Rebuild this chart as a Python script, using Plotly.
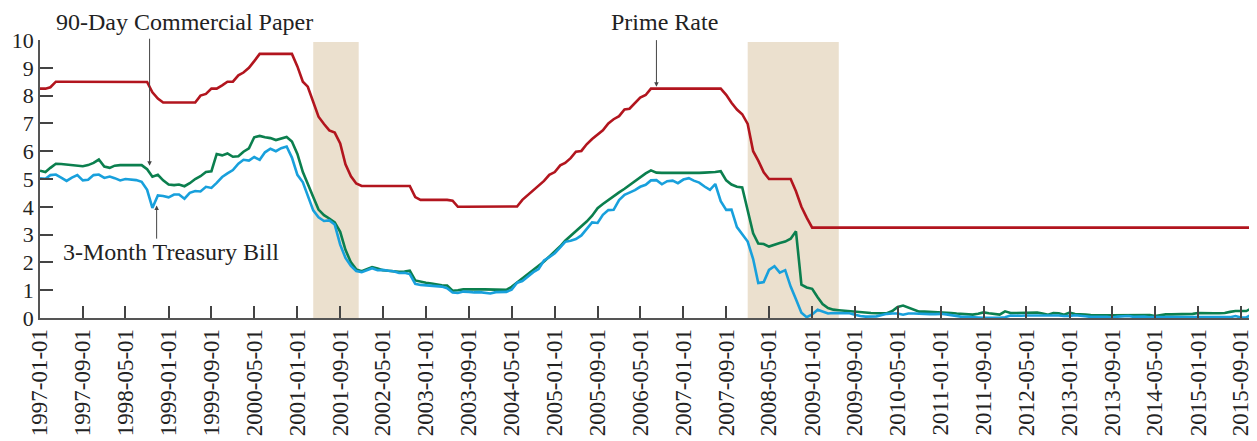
import pandas as pd
import plotly.graph_objects as go

# ---------------- data (monthly, 1997-01 .. 2015-12) ----------------
prime_rate = (
    [8.25, 8.25, 8.30, 8.50, 8.50, 8.50, 8.50, 8.50, 8.50, 8.50, 8.50, 8.50] +
    [8.50] * 8 + [8.49, 8.12, 7.89, 7.75] +
    [7.75] * 6 + [8.00, 8.06, 8.25, 8.25, 8.37, 8.50] +
    [8.50, 8.73, 8.83, 9.00, 9.24, 9.50, 9.50, 9.50, 9.50, 9.50, 9.50, 9.50] +
    [9.05, 8.50, 8.32, 7.80, 7.24, 6.98, 6.75, 6.67, 6.28, 5.53, 5.10, 4.84] +
    [4.75] * 10 + [4.35, 4.25] +
    [4.25] * 5 + [4.22] + [4.00] * 6 +
    [4.00] * 5 + [4.01, 4.25, 4.43, 4.58, 4.75, 4.93, 5.15] +
    [5.25, 5.49, 5.58, 5.75, 5.98, 6.01, 6.25, 6.44, 6.59, 6.75, 7.00, 7.15] +
    [7.26, 7.50, 7.53, 7.75, 7.93, 8.02, 8.25, 8.25, 8.25, 8.25, 8.25, 8.25] +
    [8.25] * 8 + [8.03, 7.74, 7.50, 7.33] +
    [6.98, 6.00, 5.66, 5.24, 5.00, 5.00, 5.00, 5.00, 5.00, 4.56, 4.00, 3.61] +
    [3.25] * 72 +
    [3.25] * 11 + [3.35]
)

commercial_paper_90d = (
    [5.30, 5.25, 5.40, 5.55, 5.54, 5.52, 5.50, 5.48, 5.46, 5.50, 5.58, 5.70] +
    [5.45, 5.40, 5.48, 5.50, 5.50, 5.50, 5.50, 5.50, 5.35, 5.08, 5.15, 4.95] +
    [4.80, 4.78, 4.80, 4.74, 4.85, 5.00, 5.10, 5.25, 5.28, 5.90, 5.85, 5.92] +
    [5.80, 5.82, 5.98, 6.10, 6.50, 6.55, 6.50, 6.47, 6.40, 6.45, 6.51, 6.35] +
    [5.90, 5.25, 4.85, 4.35, 3.90, 3.70, 3.58, 3.44, 3.10, 2.45, 2.00, 1.75] +
    [1.68, 1.75, 1.83, 1.78, 1.72, 1.70, 1.68, 1.66, 1.67, 1.70, 1.35, 1.30] +
    [1.27, 1.24, 1.20, 1.18, 1.17, 0.98, 1.00, 1.03, 1.03, 1.02, 1.03, 1.03] +
    [1.02, 1.01, 1.00, 1.01, 1.12, 1.28, 1.42, 1.57, 1.72, 1.88, 2.03, 2.20] +
    [2.40, 2.58, 2.78, 2.95, 3.10, 3.27, 3.47, 3.68, 3.95, 4.10, 4.25, 4.40] +
    [4.52, 4.65, 4.78, 4.90, 5.05, 5.20, 5.31, 5.23, 5.22, 5.22, 5.22, 5.22] +
    [5.22, 5.20, 5.22, 5.22, 5.23, 5.23, 5.25, 5.28, 4.95, 4.80, 4.72, 4.70] +
    [3.85, 3.05, 2.68, 2.66, 2.57, 2.65, 2.70, 2.75, 2.85, 3.12, 1.20, 1.10] +
    [1.05, 0.75, 0.50, 0.36, 0.30, 0.28, 0.26, 0.24, 0.22, 0.20, 0.19, 0.18] +
    [0.17, 0.16, 0.17, 0.25, 0.40, 0.45, 0.38, 0.28, 0.23, 0.23, 0.22, 0.22] +
    [0.22, 0.20, 0.18, 0.16, 0.15, 0.13, 0.12, 0.15, 0.20, 0.17, 0.14, 0.12] +
    [0.24, 0.18, 0.18, 0.18, 0.18, 0.18, 0.20, 0.16, 0.12, 0.18, 0.17, 0.12] +
    [0.19, 0.14, 0.12, 0.12, 0.11, 0.10, 0.10, 0.10, 0.10, 0.10, 0.10, 0.10] +
    [0.10, 0.10, 0.11, 0.11, 0.07, 0.10, 0.13, 0.13, 0.13, 0.13, 0.13, 0.15] +
    [0.18, 0.17, 0.16, 0.17, 0.17, 0.18, 0.22, 0.25, 0.25, 0.25, 0.35, 0.50]
)

treasury_bill_3m = (
    [5.03, 5.01, 5.14, 5.16, 5.05, 4.93, 5.05, 5.14, 4.95, 4.97, 5.14, 5.16] +
    [5.04, 5.09, 5.03, 4.95, 5.00, 4.98, 4.96, 4.90, 4.61, 3.96, 4.41, 4.39] +
    [4.34, 4.44, 4.44, 4.29, 4.50, 4.57, 4.55, 4.72, 4.68, 4.86, 5.07, 5.20] +
    [5.32, 5.55, 5.69, 5.66, 5.79, 5.69, 5.96, 6.09, 6.00, 6.11, 6.17, 5.77] +
    [5.15, 4.88, 4.42, 3.87, 3.62, 3.49, 3.51, 3.36, 2.64, 2.16, 1.87, 1.69] +
    [1.65, 1.73, 1.79, 1.72, 1.73, 1.70, 1.68, 1.62, 1.63, 1.58, 1.23, 1.19] +
    [1.17, 1.17, 1.13, 1.13, 1.07, 0.92, 0.90, 0.95, 0.94, 0.92, 0.93, 0.90] +
    [0.88, 0.93, 0.94, 0.94, 1.02, 1.27, 1.33, 1.48, 1.65, 1.76, 2.07, 2.19] +
    [2.33, 2.54, 2.74, 2.78, 2.84, 2.97, 3.22, 3.44, 3.42, 3.71, 3.88, 3.89] +
    [4.24, 4.43, 4.51, 4.60, 4.72, 4.79, 4.95, 4.96, 4.81, 4.92, 4.94, 4.85] +
    [4.98, 5.03, 4.94, 4.87, 4.73, 4.61, 4.82, 4.20, 3.89, 3.90, 3.27, 3.00] +
    [2.75, 2.12, 1.26, 1.29, 1.73, 1.86, 1.63, 1.72, 1.13, 0.67, 0.19, 0.03] +
    [0.13, 0.30, 0.22, 0.16, 0.18, 0.18, 0.18, 0.17, 0.12, 0.07, 0.05, 0.05] +
    [0.06, 0.11, 0.15, 0.16, 0.16, 0.12, 0.16, 0.16, 0.15, 0.13, 0.14, 0.14] +
    [0.15, 0.13, 0.10, 0.06, 0.04, 0.04, 0.04, 0.02, 0.01, 0.02, 0.01, 0.01] +
    [0.03, 0.09, 0.08, 0.08, 0.09, 0.09, 0.10, 0.10, 0.11, 0.10, 0.09, 0.07] +
    [0.07, 0.10, 0.09, 0.06, 0.04, 0.05, 0.04, 0.04, 0.02, 0.05, 0.07, 0.07] +
    [0.04, 0.05, 0.05, 0.03, 0.03, 0.04, 0.03, 0.03, 0.02, 0.02, 0.02, 0.03] +
    [0.03, 0.02, 0.03, 0.02, 0.02, 0.02, 0.03, 0.07, 0.02, 0.02, 0.12, 0.23]
)

dates = pd.date_range("1997-01-01", periods=len(prime_rate), freq="MS")

tick_labels = [d.strftime("%Y-%m-%d") for d in pd.date_range("1997-01-01", "2015-09-01", freq="8MS")]

recessions = [("2001-04-01", "2001-12-15"), ("2008-01-01", "2009-06-01")]

SERIF = "Liberation Serif, Times New Roman, serif"
RED = "#B2151E"
GREEN = "#0B7F4E"
BLUE = "#18A0DC"

fig = go.Figure()

for x0, x1 in recessions:
    fig.add_shape(type="rect", xref="x", yref="y", x0=x0, x1=x1, y0=0, y1=9.93,
                  fillcolor="#EBE0CE", line_width=0, layer="below")

fig.add_trace(go.Scatter(x=dates, y=prime_rate, mode="lines", name="Prime Rate",
                         line=dict(color=RED, width=2.6)))
fig.add_trace(go.Scatter(x=dates, y=commercial_paper_90d, mode="lines", name="90-Day Commercial Paper",
                         line=dict(color=GREEN, width=2.6)))
fig.add_trace(go.Scatter(x=dates, y=treasury_bill_3m, mode="lines", name="3-Month Treasury Bill",
                         line=dict(color=BLUE, width=2.6)))

arrow_style = dict(showarrow=True, arrowhead=2, arrowsize=0.9, arrowwidth=1, arrowcolor="#444",
                   axref="x", ayref="y", text="")
fig.add_annotation(x="1998-09-15", y=5.48, ax="1998-09-15", ay=10.1, **arrow_style)
fig.add_annotation(x="1998-10-25", y=4.05, ax="1998-10-25", ay=2.8, **arrow_style)
fig.add_annotation(x="2006-08-01", y=8.32, ax="2006-08-01", ay=10.05, **arrow_style)

text_style = dict(showarrow=False, font=dict(family=SERIF, size=24, color="#222"))
fig.add_annotation(x="1999-04-01", y=1.065, yref="paper", yanchor="middle",
                   text="90-Day Commercial Paper", **text_style)
fig.add_annotation(x="1999-01-13", y=2.36, text="3-Month Treasury Bill", **text_style)
fig.add_annotation(x="2006-09-15", y=1.065, yref="paper", yanchor="middle",
                   text="Prime Rate", **text_style)

# page body has an 8px default margin: compensate so the plot area sits where the reference's does
fig.update_layout(
    width=1249, height=433,
    margin=dict(l=32, r=0, t=32, b=123, autoexpand=False),
    paper_bgcolor="white", plot_bgcolor="white",
    showlegend=False,
    font=dict(family=SERIF, color="#222"),
)
fig.update_xaxes(
    type="date", range=["1997-01-01", "2015-12-01"], automargin=False,
    tickvals=tick_labels, ticktext=tick_labels, tickangle=-90,
    ticks="inside", ticklen=12, tickwidth=1.5, tickcolor="#444",
    showline=True, linecolor="#555", linewidth=1.5,
    showgrid=False, zeroline=False,
    tickfont=dict(family=SERIF, size=23, color="#222"),
)
fig.update_yaxes(
    range=[0, 10], tickvals=list(range(0, 11)), automargin=False,
    ticks="inside", ticklen=13, tickwidth=1.5, tickcolor="#444",
    showline=True, linecolor="#555", linewidth=1.5,
    showgrid=False, zeroline=False,
    tickfont=dict(family=SERIF, size=22, color="#222"),
)

fig.write_html("out.html")
